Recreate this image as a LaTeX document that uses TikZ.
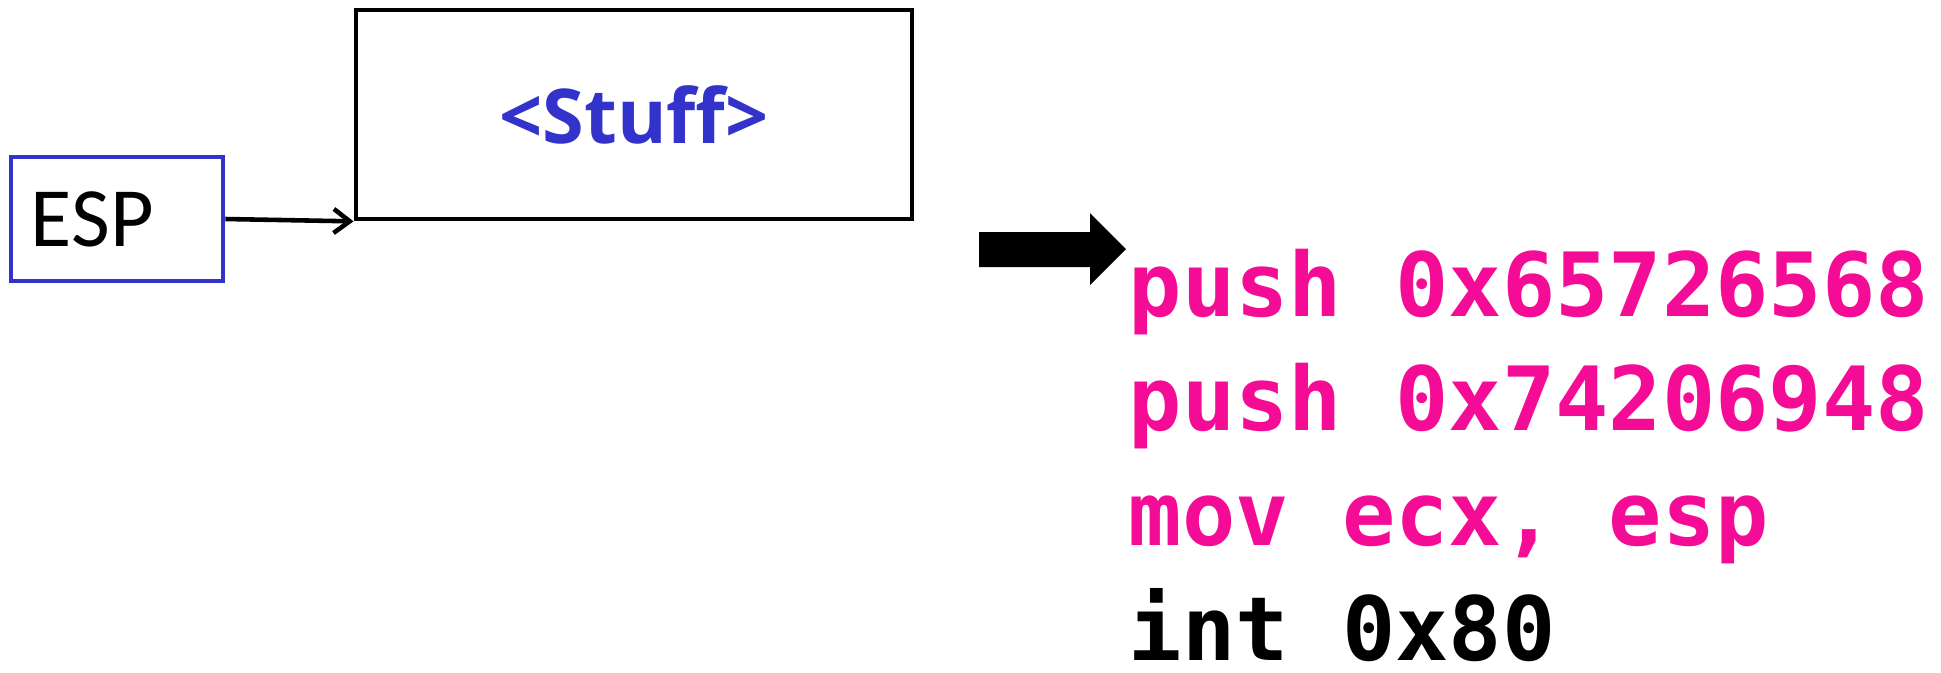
\documentclass[tikz,border=0pt]{standalone}
\usepackage{fontspec}
\usepackage{tikz}
\usetikzlibrary{arrows.meta, positioning}
\definecolor{blustack}{RGB}{51,51,204}
\definecolor{rosacodice}{RGB}{245,12,150}
\newfontfamily\fontesp{Carlito}
\newfontfamily\fontstuff{Open Sans}
\newfontfamily\fontcodice{DejaVu Sans Mono}
\newcommand{\rigaRosa}[1]{\textcolor{rosacodice}{#1}}

\begin{document}
\begin{tikzpicture}[x = 0.01cm, y = -0.01cm,
    registro/.style = {draw = blustack, line width = 1.3pt, inner xsep = 0.2cm, text width = 1.72cm, minimum height = 1.24cm, align = left, font = \fontesp\fontsize{24}{28}\selectfont},
    cella/.style = {draw, line width = 1.3pt, minimum width = 5.56cm, minimum height = 2.09cm, text = blustack, font = \fontstuff\bfseries\fontsize{21.5}{26}\selectfont},
    codice/.style = {align = left, inner sep = 0pt, text depth = 0pt, font = \fontcodice\bfseries\fontsize{25.2}{32.6}\selectfont}]
    % Margini
    \useasboundingbox (0,0) rectangle (1941,672);
    
    % Registro e cella
    \node[registro] (esp) at (117,219) {ESP};
    \node[cella] (stuff) at (634,114.5) {<Stuff>};
    \draw[line width = 1.3pt, -{Straight Barb[length = 0.16cm, width = 0.24cm]}] (esp.east) -- (stuff.south west);
    
    % Freccia grossa
    \fill (979,232) -- (1090,232) -- (1090,213) -- (1126,249) -- (1090,285) -- (1090,267) -- (979,267) -- cycle;
    
    % Codice (base = ultima riga)
    \node[codice, anchor = base west] (codice) at (1128,660) {\rigaRosa{push 0x65726568}\\ \rigaRosa{push 0x74206948}\\ \rigaRosa{mov ecx, esp}\\ int 0x80};
\end{tikzpicture}
\end{document}
